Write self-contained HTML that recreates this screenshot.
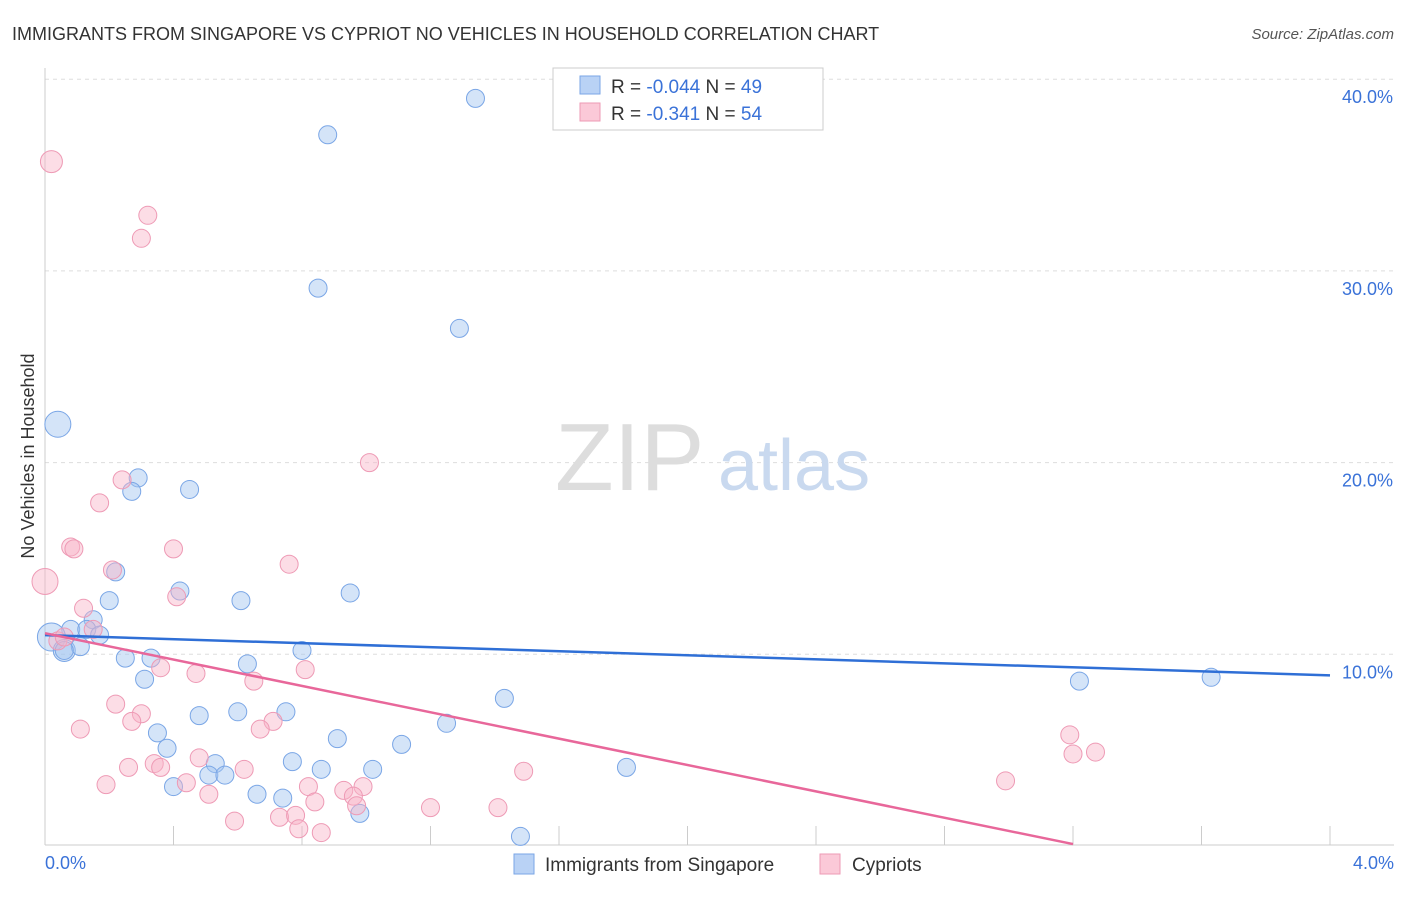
<!DOCTYPE html>
<html><head><meta charset="utf-8"><style>
body{margin:0;background:#fff;font-family:"Liberation Sans",sans-serif}
svg text{font-family:"Liberation Sans",sans-serif}
</style></head><body>
<svg width="1406" height="892">
<text x="12" y="40" font-size="18" fill="#333">IMMIGRANTS FROM SINGAPORE VS CYPRIOT NO VEHICLES IN HOUSEHOLD CORRELATION CHART</text>
<text x="1394" y="39" font-size="15" fill="#555" font-style="italic" text-anchor="end">Source: ZipAtlas.com</text>
<g id="grid"></g>
<text x="555" y="490" font-size="96" fill="#ddd" font-family="Liberation Serif">ZIP</text>
<text x="718" y="490" font-size="72" fill="#c9d9ef">atlas</text>
<line x1="45" y1="68" x2="45" y2="845" stroke="#ccc"/>
<line x1="45" y1="845" x2="1394" y2="845" stroke="#ccc"/>
<text transform="translate(34,456) rotate(-90)" font-size="18" fill="#333" text-anchor="middle">No Vehicles in Household</text>
<text x="45" y="869" font-size="18" fill="#3a72d8">0.0%</text>
<text x="1394" y="869" font-size="18" fill="#3a72d8" text-anchor="end">4.0%</text>
<g id="pts"></g>
<g>
<rect x="553" y="68" width="270" height="62" fill="#fff" stroke="#ccc"/>
<rect x="580" y="76" width="20" height="18" fill="#b9d2f5" stroke="#7aa6e6"/>
<rect x="580" y="103" width="20" height="18" fill="#fbc9d8" stroke="#ee9ab5"/>
<text x="611" y="93" font-size="19" fill="#333">R = <tspan fill="#3a72d8">-0.044</tspan>   N = <tspan fill="#3a72d8">49</tspan></text>
<text x="611" y="120" font-size="19" fill="#333">R =  <tspan fill="#3a72d8">-0.341</tspan>   N = <tspan fill="#3a72d8">54</tspan></text>
</g>
<g>
<rect x="514" y="854" width="20" height="20" fill="#b9d2f5" stroke="#7aa6e6"/>
<text x="545" y="871" font-size="19" fill="#333">Immigrants from Singapore</text>
<rect x="820" y="854" width="20" height="20" fill="#fbc9d8" stroke="#ee9ab5"/>
<text x="852" y="871" font-size="19" fill="#333">Cypriots</text>
</g>
</svg>
<script>
const yTicks=[10,20,30,40];
const xTicks=[0,0.4,0.8,1.2,1.6,2.0,2.4,2.8,3.2,3.6,4.0];
const blueX=[1.34,0.88,0.85,1.29,0.04,0.29,0.27,0.45,0.22,0.42,0.95,0.20,0.61,0.15,0.08,0.13,0.17,0.02,0.06,0.11,0.80,0.25,0.33,0.63,0.31,1.43,3.22,3.63,0.48,0.60,0.75,1.25,0.35,0.38,0.91,1.11,0.77,0.53,0.51,0.56,0.86,1.02,1.81,0.40,0.66,0.74,0.98,1.48,0.06];
const blueY=[39.0,37.1,29.1,27.0,22.0,19.2,18.5,18.6,14.3,13.3,13.2,12.8,12.8,11.8,11.3,11.3,11.0,10.9,10.2,10.4,10.2,9.8,9.8,9.5,8.7,7.7,8.6,8.8,6.8,7.0,7.0,6.4,5.9,5.1,5.6,5.3,4.4,4.3,3.7,3.7,4.0,4.0,4.1,3.1,2.7,2.5,1.7,0.5,10.2];
const blueS=[9,9,9,9,13,9,9,9,9,9,9,9,9,9,9,9,9,14,11,9,9,9,9,9,9,9,9,9,9,9,9,9,9,9,9,9,9,9,9,9,9,9,9,9,9,9,9,9,9];
const pinkX=[0.02,0.32,0.30,1.01,0.24,0.17,0.08,0.09,0.40,0.76,0.21,0.41,0.12,0.15,0.00,0.04,0.36,0.47,0.81,0.65,0.22,0.30,0.27,0.71,0.67,0.11,3.19,3.20,3.27,0.48,0.34,0.36,0.26,0.62,1.49,0.44,0.19,2.99,0.82,0.51,0.93,0.99,0.96,0.84,0.97,1.20,1.41,0.59,0.73,0.78,0.79,0.86,0.06];
const pinkY=[35.7,32.9,31.7,20.0,19.1,17.9,15.6,15.5,15.5,14.7,14.4,13.0,12.4,11.3,13.8,10.7,9.3,9.0,9.2,8.6,7.4,6.9,6.5,6.5,6.1,6.1,5.8,4.8,4.9,4.6,4.3,4.1,4.1,4.0,3.9,3.3,3.2,3.4,3.1,2.7,2.9,3.1,2.6,2.3,2.1,2.0,2.0,1.3,1.5,1.6,0.9,0.7,10.9];
const pinkS=[11,9,9,9,9,9,9,9,9,9,9,9,9,9,13,9,9,9,9,9,9,9,9,9,9,9,9,9,9,9,9,9,9,9,9,9,9,9,9,9,9,9,9,9,9,9,9,9,9,9,9,9,9];
const blueLine=[11.0,8.9];
const pinkLine=[11.1,0.1];
const X=v=>45+v/4*1285, Y=v=>846-v*19.17;
const NS="http://www.w3.org/2000/svg";
const g=document.getElementById('grid'), p=document.getElementById('pts');
function mk(tag,at,par){const e=document.createElementNS(NS,tag);for(const k in at)e.setAttribute(k,at[k]);par.appendChild(e);return e;}
yTicks.forEach(t=>{
 const l=mk('line',{x1:45,x2:1394,y1:Y(t),y2:Y(t),stroke:'#ddd','stroke-dasharray':'4,4'},g);
 
 
 const tx=mk('text',{x:1393,y:Y(t)+24,'font-size':18,fill:'#3a72d8','text-anchor':'end'},g);
 tx.textContent=t.toFixed(1)+'%';
 
 
});
xTicks.forEach(t=>{
 const l=mk('line',{x1:X(t),x2:X(t),y1:826,y2:845,stroke:'#ccc'},g);
 
 
});
blueX.forEach((v,i)=>{
 const c=mk('circle',{cx:X(v),cy:Y(blueY[i]),r:blueS[i],fill:'rgba(160,195,240,0.45)',stroke:'#7aa6e6','stroke-width':1},p);
 
 
});
pinkX.forEach((v,i)=>{
 const c=mk('circle',{cx:X(v),cy:Y(pinkY[i]),r:pinkS[i],fill:'rgba(248,180,200,0.45)',stroke:'#ee9ab5','stroke-width':1},p);
 
 
});
const bl=mk('line',{x1:X(0),y1:Y(blueLine[0]),x2:X(4),y2:Y(blueLine[1]),stroke:'#2f6fd6','stroke-width':2.5},p);


const pl=mk('line',{x1:X(0),y1:Y(pinkLine[0]),x2:X(3.2),y2:Y(pinkLine[1]),stroke:'#e8679a','stroke-width':2.5},p);


</script>
</body></html>
